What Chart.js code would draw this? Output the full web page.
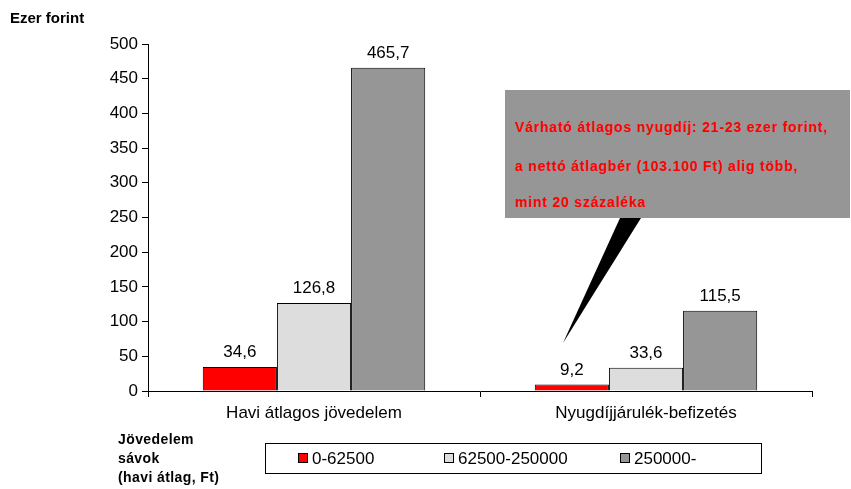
<!DOCTYPE html>
<html>
<head>
<meta charset="utf-8">
<script src="https://cdn.jsdelivr.net/npm/chart.js@4/dist/chart.umd.min.js"></script>
<style>
  html, body { margin: 0; padding: 0; background: #fff; }
  #wrap { position: relative; width: 851px; height: 489px; font-family: "Liberation Sans", Arial, sans-serif; }
  canvas { position: absolute; left: 0; top: 0; }
  .abs { position: absolute; white-space: nowrap; }
  #ytitle { left: 10px; top: 9px; font-weight: bold; font-size: 15px; }
  #side { left: 118px; top: 430px; font-weight: bold; font-size: 14px; line-height: 19px; letter-spacing: 0.4px; }
  #legend { left: 265px; top: 443px; width: 495px; height: 29px; border: 1px solid #000; }
  .li { position: absolute; top: 5px; font-size: 17px; line-height: 19px; }
  .sw { display: inline-block; width: 8px; height: 8px; border: 1px solid #000; margin-right: 4px; vertical-align: 1px; }
  #callout { left: 505px; top: 90px; width: 345px; height: 128px; background: #969696; }
  #callout div { position: absolute; left: 10px; color: #ff0000; font-weight: bold; font-size: 14px; letter-spacing: 0.8px; }
</style>
</head>
<body>
<div id="wrap">
  <canvas id="c" width="851" height="489"></canvas>
  <div id="ytitle" class="abs">Ezer forint</div>
  <div id="side" class="abs">Jövedelem<br>sávok<br>(havi átlag, Ft)</div>
  <div id="legend" class="abs"></div>
  <div id="callout" class="abs">
    <div style="top:29px">Várható átlagos nyugdíj: 21-23 ezer forint,</div>
    <div style="top:68px">a nettó átlagbér (103.100 Ft) alig több,</div>
    <div style="top:104px">mint 20 százaléka</div>
  </div>
</div>
<script>
const categories = ["Havi átlagos jövedelem", "Nyugdíjjárulék-befizetés"];
const seriesLabels = ["0-62500", "62500-250000", "250000-"];
const band1 = [34.6, 9.2];
const band2 = [126.8, 33.6];
const band3 = [465.7, 115.5];
const colors = ["#ff0000", "#dddddd", "#969696"];
const yTicks = [0, 50, 100, 150, 200, 250, 300, 350, 400, 450, 500];

const seriesValues = [band1, band2, band3];
const fmt = v => v.toFixed(1).replace('.', ',');
const FONT = '"Liberation Sans", Arial, sans-serif';

// legend
const legendEl = document.getElementById('legend');
const legendX = [32, 178, 354];
seriesLabels.forEach((lab, i) => {
  const d = document.createElement('div');
  d.className = 'li';
  d.style.left = legendX[i] + 'px';
  d.innerHTML = '<span class="sw" style="background:' + colors[i] + '"></span>' + lab;
  legendEl.appendChild(d);
});

const labelsPlugin = {
  id: 'barLabels',
  afterDatasetsDraw(chart) {
    const ctx = chart.ctx;
    ctx.save();
    ctx.font = '17px ' + FONT;
    ctx.fillStyle = '#000';
    ctx.textAlign = 'center';
    ctx.textBaseline = 'alphabetic';
    chart.data.datasets.forEach((ds, di) => {
      const meta = chart.getDatasetMeta(di);
      meta.data.forEach((bar, i) => {
        ctx.fillText(fmt(ds.data[i]), bar.x, bar.y - 10);
      });
    });
    ctx.restore();
  },
  afterDraw(chart) {
    const ctx = chart.ctx;
    ctx.save();
    ctx.fillStyle = '#000';
    ctx.beginPath();
    ctx.moveTo(620, 218);
    ctx.lineTo(641, 218);
    ctx.lineTo(563, 343);
    ctx.closePath();
    ctx.fill();
    ctx.restore();
  }
};

new Chart(document.getElementById('c'), {
  type: 'bar',
  data: {
    labels: categories,
    datasets: seriesLabels.map((lab, i) => ({
      label: lab,
      data: seriesValues[i],
      backgroundColor: colors[i],
      borderColor: '#000',
      borderWidth: 1,
      categoryPercentage: 0.67,
      barPercentage: 1.0
    }))
  },
  options: {
    responsive: false,
    animation: false,
    devicePixelRatio: 1,
    layout: { padding: { left: 0, top: 44, right: 39, bottom: 0 } },
    plugins: { legend: { display: false }, tooltip: { enabled: false } },
    scales: {
      x: {
        afterFit(s) { s.height = 98; },
        grid: { offset: true, drawOnChartArea: false, tickLength: 6, color: '#000' },
        border: { color: '#000', width: 1 },
        ticks: { color: '#000', padding: 6, font: { size: 17, family: FONT } }
      },
      y: {
        min: 0, max: 500,
        afterFit(s) { s.width = 148; },
        afterBuildTicks(s) { s.ticks = yTicks.map(v => ({ value: v })); },
        grid: { drawOnChartArea: false, tickLength: 6, color: '#000' },
        border: { color: '#000', width: 1 },
        ticks: { color: '#000', padding: 4, font: { size: 17, family: FONT } }
      }
    }
  },
  plugins: [labelsPlugin]
});
</script>
</body>
</html>
